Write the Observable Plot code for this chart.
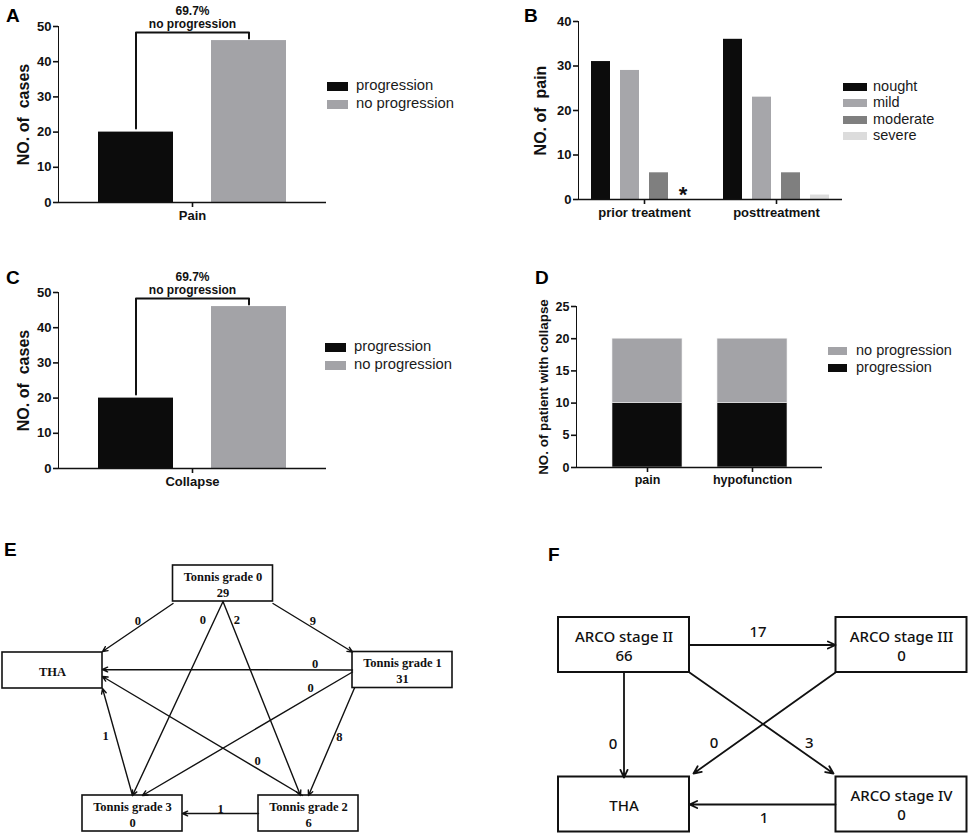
<!DOCTYPE html>
<html><head><meta charset="utf-8">
<script src="https://cdn.jsdelivr.net/npm/d3@7"></script>
<script src="https://cdn.jsdelivr.net/npm/@observablehq/plot@0.6"></script>
<style>
body{margin:0;background:#fff;}
#fig{position:relative;width:969px;height:835px;background:#fff;overflow:hidden;font-family:"Liberation Sans",Arial,sans-serif;}
#fig svg{position:absolute;}
#fig svg.chart g[aria-label*="axis"], #fig svg.chart g[aria-label*="rule"]{stroke-width:1.6px;}
</style></head><body><div id="fig"></div>
<script>
// ---------------- DATA ----------------
const outcomeLevels = ["progression", "no progression"];
const painGroup = "Pain";
const painOutcomeCounts = [20, 46];
const collapseGroup = "Collapse";
const collapseOutcomeCounts = [20, 46];

const painPeriods = ["prior treatment", "posttreatment"];
const painLevels = ["nought", "mild", "moderate", "severe"];
const painPriorCounts = [31, 29, 6, 0];
const painPostCounts = [36, 23, 6, 1];
const painSignificance = [{period: "prior treatment", level: "severe", mark: "*"}];

const symptomLabels = ["pain", "hypofunction"];
const symptomProgression = [10, 10];
const symptomNoProgression = [10, 10];

const tonnisNodes = ["Tonnis grade 0", "Tonnis grade 1", "Tonnis grade 2", "Tonnis grade 3", "THA"];
const tonnisNodeCounts = [29, 31, 6, 0, null];
const tonnisEdgeFrom = ["Tonnis grade 0","Tonnis grade 0","Tonnis grade 0","Tonnis grade 0","Tonnis grade 1","Tonnis grade 1","Tonnis grade 1","Tonnis grade 2","Tonnis grade 3","Tonnis grade 2"];
const tonnisEdgeTo = ["THA","Tonnis grade 3","Tonnis grade 2","Tonnis grade 1","THA","Tonnis grade 3","Tonnis grade 2","THA","THA","Tonnis grade 3"];
const tonnisEdgeCounts = [0, 0, 2, 9, 0, 0, 8, 0, 1, 1];

const arcoNodes = ["ARCO stage II", "ARCO stage III", "ARCO stage IV", "THA"];
const arcoNodeCounts = [66, 0, 0, null];
const arcoEdgeFrom = ["ARCO stage II","ARCO stage II","ARCO stage III","ARCO stage II","ARCO stage IV"];
const arcoEdgeTo = ["ARCO stage III","THA","THA","ARCO stage IV","THA"];
const arcoEdgeCounts = [17, 0, 0, 3, 1];

// ---------------- LAYOUT / STYLE ----------------
const BLACK = "#0c0c0c", GREY = "#a3a3a7";
const painColors = ["#0c0c0c", "#a6a6aa", "#7f7f7f", "#dcdcdc"];
const SANS = "'Liberation Sans', Arial, sans-serif";

const tonnisLayout = {
  origin: [0, 540], size: [480, 295], box: [100, 36],
  centers: {"Tonnis grade 0": [222.5, 583], "Tonnis grade 1": [402, 669.5], "Tonnis grade 2": [308, 813], "Tonnis grade 3": [132, 813], "THA": [52, 670]},
  ports: [[[-50,20],[50,-19]], [[0,18],[0,-18]], [[0,18],[-8,-18]], [[50,20],[-50,-18]], [[-50,0],[50,-1]],
          [[-50,2],[10,-18]], [[-48,18],[0,-18]], [[-6,-18],[50,6]], [[0,-18],[50,18]], [[-50,0],[50,0]]],
  labels: [[0.5,0,-7],[0.1,-11,-1],[0.1,6,-1],[0.5,0,-7],[0.15,0,-6],[0.2,0,-9],[0.46,6,0],[0.225,0,-8],[0.56,-10,0],[0.5,0,-5]]
};
const arcoLayout = {
  origin: [490, 590], size: [479, 245], box: [131, 55],
  centers: {"ARCO stage II": [623.5, 644.5], "ARCO stage III": [901, 644.5], "THA": [623.5, 804], "ARCO stage IV": [901, 804]},
  ports: [[[65.5,0],[-66,0]], [[0,27.5],[0,-27]], [[-66,27.5],[69.5,-31]], [[65.5,27.5],[-68,-31]], [[-66,0],[65.5,0]]],
  labels: [[0.47,0,-13],[0.68,-11,0],[0.70,-22,0],[0.70,19,0],[0.49,0,14]]
};

const fig = document.getElementById("fig");
function place(node, left, top, cls) {
  node.style.position = "absolute"; node.style.left = left + "px"; node.style.top = top + "px";
  if (cls) node.classList.add(cls);
  fig.appendChild(node); return node;
}
function letter(txt, left, capTop) {
  const d = document.createElement("div");
  d.textContent = txt;
  d.style.cssText = `position:absolute;left:${left}px;top:${capTop - 2.5}px;font:bold 19px ${SANS};line-height:19px;color:#000`;
  fig.appendChild(d);
}
function legend(labels, colors, x, y, step, sw, sh, tx, fs) {
  labels.forEach((lab, i) => {
    const s = document.createElement("div");
    s.style.cssText = `position:absolute;left:${x}px;top:${y + i * step}px;width:${sw}px;height:${sh}px;background:${colors[i]}`;
    fig.appendChild(s);
    const t = document.createElement("div");
    t.textContent = lab;
    t.style.cssText = `position:absolute;left:${tx}px;top:${y + i * step + sh / 2 - fs * 0.62}px;font:${fs}px ${SANS};line-height:${fs * 1.2}px;white-space:nowrap;color:#1a1a1a`;
    fig.appendChild(t);
  });
}
function restyleLabel(svg, size) {
  svg.querySelectorAll('[aria-label="y-axis label"]').forEach(g => {
    g.setAttribute("font-size", size);
    g.style.fontSize = size + "px";
    g.querySelectorAll("text").forEach(t => t.style.fontSize = size + "px");
  });
  // drop the automatic direction arrow from axis labels
  const walker = document.createTreeWalker(svg, NodeFilter.SHOW_TEXT);
  const nodes = [];
  while (walker.nextNode()) nodes.push(walker.currentNode);
  nodes.forEach(n => {
    if (/[\u2191\u2193\u2190\u2192]/.test(n.nodeValue)) n.nodeValue = n.nodeValue.replace(/\s*[\u2191\u2193\u2190\u2192]\s*/g, "");
  });
}

// ---------------- A & C ----------------
function outcomeChart(groupName, counts, yLabel) {
  const rows = outcomeLevels.map((o, i) => ({group: groupName, outcome: o, count: counts[i]}));
  const share = d3.format(".1f")(counts[1] / d3.sum(counts) * 100) + "%";
  const top = d3.max(counts) + 2.3;
  const bracket = [
    {group: groupName, outcome: outcomeLevels[0], y: counts[0] + 1},
    {group: groupName, outcome: outcomeLevels[0], y: top},
    {group: groupName, outcome: outcomeLevels[1], y: top},
    {group: groupName, outcome: outcomeLevels[1], y: counts[1] + 0.6}
  ];
  const svg = Plot.plot({
    width: 480, height: 225,
    marginLeft: 58, marginRight: 154, marginTop: 26, marginBottom: 23,
    style: {fontFamily: SANS, fontSize: "13px", fontWeight: "bold", color: "#111", background: "transparent", overflow: "visible"},
    fx: {axis: "bottom", padding: 0, tickSize: 5, tickPadding: 3, label: null},
    x: {axis: null, domain: outcomeLevels, paddingInner: 0.34, paddingOuter: 0.35},
    y: {domain: [0, 50], ticks: [0, 10, 20, 30, 40, 50], tickSize: 5, tickPadding: 2, line: true,
        label: yLabel, labelAnchor: "center", labelOffset: 41, labelArrow: false},
    color: {domain: outcomeLevels, range: [BLACK, GREY]},
    marks: [
      Plot.barY(rows, {fx: "group", x: "outcome", y: "count", fill: "outcome"}),
      Plot.ruleY([0], {strokeWidth: 1.6}),
      Plot.line(bracket, {fx: "group", x: "outcome", y: "y", strokeWidth: 2}),
      Plot.text([`${share}\nno progression`], {y: top, text: d => d, lineAnchor: "bottom", dy: -4, fontSize: 12, lineHeight: 1.1})
    ]
  });
  restyleLabel(svg, 16);
  return svg;
}
letter("A", 6, 8);
place(outcomeChart(painGroup, painOutcomeCounts, "NO. of\u00a0 cases"), 0, 0, "chart");
legend(outcomeLevels, [BLACK, GREY], 327, 82, 18, 21, 9, 356, 14.8);

letter("C", 6, 270);
place(outcomeChart(collapseGroup, collapseOutcomeCounts, "NO. of\u00a0 cases"), 0, 266, "chart");
legend(outcomeLevels, [BLACK, GREY], 325, 343, 18, 21, 9, 354, 14.8);

// ---------------- B ----------------
const painRows = painPeriods.flatMap((p, i) => painLevels.map((l, j) => ({period: p, level: l, count: [painPriorCounts, painPostCounts][i][j]})));
const svgB = Plot.plot({
  width: 489, height: 225,
  marginLeft: 97, marginRight: 127, marginTop: 21, marginBottom: 26,
  style: {fontFamily: SANS, fontSize: "13px", fontWeight: "bold", color: "#111", background: "transparent", overflow: "visible"},
  fx: {axis: "bottom", domain: painPeriods, padding: 0, tickSize: 5, tickPadding: 3, label: null},
  x: {axis: null, domain: painLevels, paddingInner: 0.335, paddingOuter: 0.43},
  y: {domain: [0, 40], ticks: [0, 10, 20, 30, 40], tickSize: 5, tickPadding: 2, line: true,
      label: "NO. of\u00a0 pain", labelAnchor: "center", labelOffset: 44, labelArrow: false},
  color: {domain: painLevels, range: painColors},
  marks: [
    Plot.barY(painRows, {fx: "period", x: "level", y: "count", fill: "level"}),
    Plot.ruleY([0], {strokeWidth: 1.6}),
    Plot.text(painSignificance, {fx: "period", x: "level", y: 0, text: "mark", fontSize: 22, dy: -4.5, dx: -5})
  ]
});
restyleLabel(svgB, 16);
letter("B", 524, 8);
place(svgB, 480, 0, "chart");
legend(painLevels, painColors, 843, 83, 16.4, 24, 8, 873, 14.5);

// ---------------- D ----------------
const symptomRows = symptomLabels.flatMap((s, i) => [
  {symptom: s, outcome: "progression", count: symptomProgression[i]},
  {symptom: s, outcome: "no progression", count: symptomNoProgression[i]}
]);
const svgD = Plot.plot({
  width: 489, height: 225,
  marginLeft: 96, marginRight: 147, marginTop: 40, marginBottom: 24,
  style: {fontFamily: SANS, fontSize: "12.5px", fontWeight: "bold", color: "#111", background: "transparent", overflow: "visible"},
  x: {domain: symptomLabels, paddingInner: 1 / 3, paddingOuter: 0.338, tickSize: 5, tickPadding: 3, label: null},
  y: {domain: [0, 25], ticks: [0, 5, 10, 15, 20, 25], tickSize: 5, tickPadding: 2, line: true,
      label: "NO. of patient with collapse", labelAnchor: "center", labelOffset: 38, labelArrow: false},
  color: {domain: outcomeLevels, range: [BLACK, GREY]},
  marks: [
    Plot.barY(symptomRows, {x: "symptom", y: "count", fill: "outcome", stroke: "#eee", strokeWidth: 0.6}),
    Plot.ruleY([0], {strokeWidth: 1.6})
  ]
});
restyleLabel(svgD, 13.4);
letter("D", 535, 270);
place(svgD, 480, 266, "chart");
legend(["no progression", "progression"], [GREY, BLACK], 828, 347, 17, 19, 8, 856, 14.5);

// ---------------- E & F (transition diagrams) ----------------
function diagram(o) {
  const L = o.layout, [bw, bh] = L.box;
  const boxes = o.nodes.map((n, i) => ({name: n, label: o.counts[i] == null ? n : `${n}\n${o.counts[i]}`, cx: L.centers[n][0], cy: L.centers[n][1]}));
  const edges = o.from.map((f, i) => {
    const [ps, pt] = L.ports[i];
    const s = L.centers[f], t = L.centers[o.to[i]];
    const x1 = s[0] + ps[0], y1 = s[1] + ps[1], x2 = t[0] + pt[0], y2 = t[1] + pt[1];
    const [tt, dx, dy] = L.labels[i];
    return {x1, y1, x2, y2, value: String(o.values[i]), lx: x1 + (x2 - x1) * tt + dx, ly: y1 + (y2 - y1) * tt + dy};
  });
  const txt = {fontFamily: o.font, fontSize: o.fontSize, fontWeight: o.fontWeight, fill: "#111"};
  return Plot.plot({
    width: L.size[0], height: L.size[1], margin: 0,
    style: {background: "transparent", overflow: "visible"},
    x: {domain: [L.origin[0], L.origin[0] + L.size[0]], range: [0, L.size[0]], axis: null},
    y: {domain: [L.origin[1], L.origin[1] + L.size[1]], range: [0, L.size[1]], axis: null},
    marks: [
      Plot.rect(boxes, {x1: d => d.cx - bw / 2, x2: d => d.cx + bw / 2, y1: d => d.cy - bh / 2, y2: d => d.cy + bh / 2, fill: "white", stroke: "#111", strokeWidth: o.boxStroke}),
      Plot.arrow(edges, {x1: "x1", y1: "y1", x2: "x2", y2: "y2", stroke: "#111", strokeWidth: o.lineWidth, headLength: o.headLength, headAngle: 50}),
      Plot.text(boxes, {x: "cx", y: "cy", text: "label", lineHeight: o.lineHeight, ...txt}),
      Plot.text(edges, {x: "lx", y: "ly", text: "value", ...txt})
    ]
  });
}
letter("E", 4, 542);
place(diagram({nodes: tonnisNodes, counts: tonnisNodeCounts, from: tonnisEdgeFrom, to: tonnisEdgeTo, values: tonnisEdgeCounts,
  layout: tonnisLayout, font: "'Liberation Serif', 'Times New Roman', serif", fontSize: 12.5, fontWeight: "bold", lineHeight: 1.28,
  boxStroke: 1.6, lineWidth: 1.4, headLength: 6}), 0, 540);

letter("F", 548, 547);
place(diagram({nodes: arcoNodes, counts: arcoNodeCounts, from: arcoEdgeFrom, to: arcoEdgeTo, values: arcoEdgeCounts,
  layout: arcoLayout, font: "'Noto Sans', Arial, sans-serif", fontSize: 15, fontWeight: 500, lineHeight: 1.27,
  boxStroke: 2, lineWidth: 1.8, headLength: 7}), 490, 590);
</script></body></html>
